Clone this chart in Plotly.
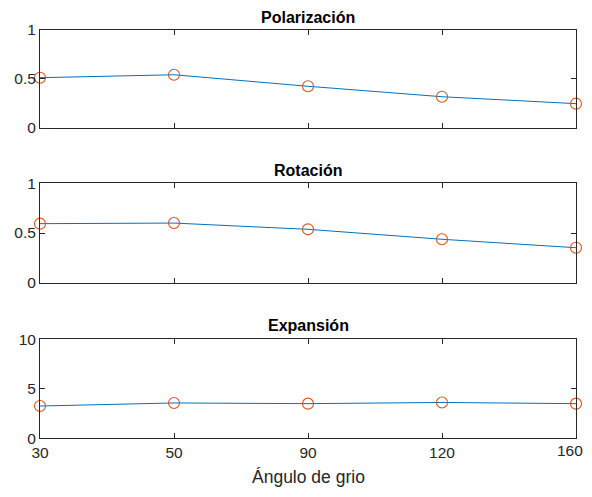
import plotly.graph_objects as go
from plotly.subplots import make_subplots

angles = ["30", "50", "90", "120", "160"]
polarizacion = [0.512, 0.542, 0.424, 0.317, 0.246]
rotacion = [0.594, 0.600, 0.537, 0.437, 0.352]
expansion = [3.26, 3.57, 3.50, 3.62, 3.50]
titles = ["Polarización", "Rotación", "Expansión"]
y_ranges = [[0, 1], [0, 1], [0, 10]]
y_ticks = [[0, 0.5, 1], [0, 0.5, 1], [0, 5, 10]]
y_ticktext = [["0", "0.5", "1"], ["0", "0.5", "1"], ["0", "5", "10"]]
xlabel = "Ángulo de grio"

FONT = "Liberation Sans, Arial, Helvetica, sans-serif"
AX = "#262626"

# the last tick label is drawn as an annotation nudged left so it stays inside the page
x_ticktext = angles[:-1] + [""]

fig = make_subplots(rows=3, cols=1)
series = [polarizacion, rotacion, expansion]
domains = [[0.7632, 0.9952], [0.3950, 0.6311], [0.0254, 0.2606]]

for i, s in enumerate(series):
    r = i + 1
    fig.add_trace(go.Scatter(x=angles, y=s, mode="lines",
                             line=dict(color="#0072BD", width=1),
                             showlegend=False, cliponaxis=False), row=r, col=1)
    fig.add_trace(go.Scatter(x=angles, y=s, mode="markers",
                             marker=dict(symbol="circle-open", size=11,
                                         color="#D95319", line=dict(width=1.1)),
                             showlegend=False, cliponaxis=False), row=r, col=1)
    fig.update_xaxes(type="category", range=[0, len(angles) - 1], showline=True,
                     mirror="ticks", linecolor=AX, linewidth=1, ticks="inside",
                     ticklen=5, tickcolor=AX, showgrid=False, zeroline=False,
                     tickvals=angles, ticktext=x_ticktext,
                     tickfont=dict(family=FONT, size=15.5, color=AX),
                     showticklabels=(r == 3), automargin=False, row=r, col=1)
    fig.update_yaxes(range=y_ranges[i], tickvals=y_ticks[i], ticktext=y_ticktext[i],
                     showline=True, mirror="ticks", linecolor=AX, linewidth=1,
                     ticks="inside", ticklen=5, tickcolor=AX, showgrid=False,
                     zeroline=False, domain=domains[i], automargin=False,
                     tickfont=dict(family=FONT, size=15.5, color=AX), row=r, col=1)

# category axes place annotations by the category's serial index
fig.add_annotation(text=angles[-1], x=len(angles) - 1, xref="x3", y=0, yref="y3",
                   yanchor="top", xanchor="center", xshift=-6, yshift=-2,
                   showarrow=False, font=dict(family=FONT, size=15.5, color=AX))

title_y = [1.0261, 0.6627, 0.2922]
for i, t in enumerate(titles):
    fig.add_annotation(text="<b>" + t + "</b>", x=0.5, xref="paper",
                       y=title_y[i], yref="paper", yanchor="middle",
                       showarrow=False, font=dict(family=FONT, size=16, color="black"))

fig.add_annotation(text=xlabel, x=0.5, xref="paper", y=-0.0665, yref="paper",
                   yanchor="middle", showarrow=False,
                   font=dict(family=FONT, size=17.5, color=AX))

fig.update_layout(width=576, height=481, margin=dict(l=32, r=8, t=20, b=40),
                  plot_bgcolor="white", paper_bgcolor="white",
                  font=dict(family=FONT, color=AX))
fig.write_html("out.html")
